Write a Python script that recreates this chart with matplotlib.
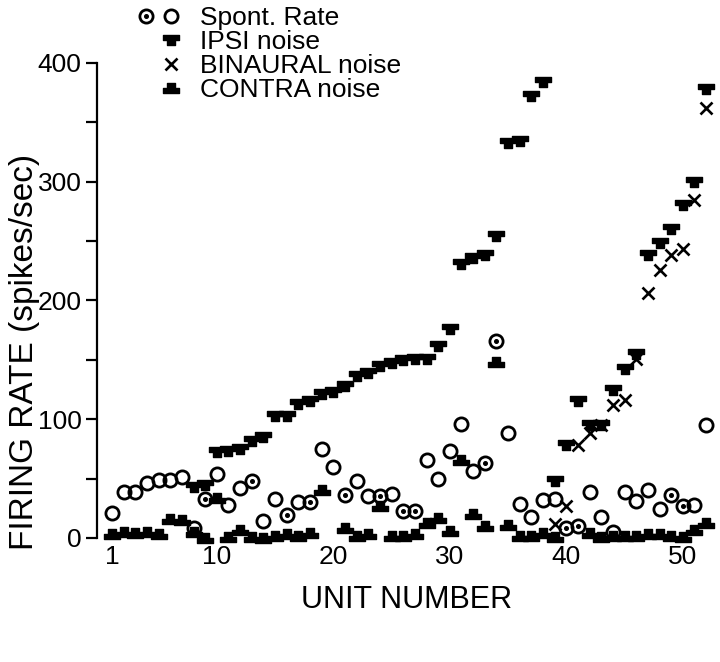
import numpy as np
import matplotlib
matplotlib.use("Agg")
import matplotlib.pyplot as plt
from matplotlib.path import Path
from matplotlib.lines import Line2D
from matplotlib.legend_handler import HandlerTuple

nan = np.nan
units = np.arange(1, 53)

spont = [21, 39, 39, 46, 49, 49, 51, 8, 33, 54, 28, 42, 48, 14, 33, 19, 30, 30, 75, 60,
         36, 48, 35, 35, 37, 23, 23, 66, 50, 73, 96, 56, 63, 166, 88, 29, 18, 32, 33, 8,
         10, 39, 18, 5, 39, 31, 40, 24, 36, 27, 28, 95]
dotted_units = [9, 13, 16, 18, 21, 24, 26, 27, 33, 34, 40, 41, 49, 50]

ipsi = [nan, nan, nan, nan, nan, nan, nan, 43, 45, 72, 73, 75, 82, 85, 103, 103, 113, 115, 121, 123,
        128, 136, 139, 145, 147, 150, 151, 151, 162, 176, 231, 236, 238, 254, 333, 334, 372, 384, 48, 78,
        115, 95, 95, 125, 142, 155, 238, 248, 260, 280, 300, 378]

binaural = [nan] * 38 + [12, 27, 78, 88, 95, 112, 116, 151, 206, 226, 238, 243, 285, 362]

contra = [3, 5, 4, 5, 3, 16, 15, 5, 0, 34, 1, 7, 1, 0, 2, 3, 2, 4, 40, nan,
          8, 2, 3, 27, 2, 2, 3, 13, 17, 6, 66, 20, 10, 148, 11, 2, 2, 4, 1, nan,
          nan, 4, 1, 2, 2, 2, 3, 3, 2, 1, 7, 13]

xticks = [1, 10, 20, 30, 40, 50]
yticks = [0, 100, 200, 300, 400]

plt.rcParams['font.family'] = ['Liberation Sans', 'DejaVu Sans']

# T-shaped markers
ipsi_verts = [(-1, 0.6), (1, 0.6), (1, 0.0), (0.45, 0.0), (0.45, -0.6), (-0.45, -0.6),
              (-0.45, 0.0), (-1, 0.0), (-1, 0.6)]
ipsi_marker = Path(ipsi_verts, closed=True)
contra_verts = [(x, -y) for x, y in ipsi_verts]
contra_marker = Path(contra_verts, closed=True)

fig = plt.figure(figsize=(7.2, 6.62), dpi=100)
ax = fig.add_axes([0.1345, 0.1784, 0.8592, 0.7444])

ms_c = 9.5
h_spont, = ax.plot(units, spont, linestyle='none', marker='o', ms=ms_c, mfc='none',
                   mec='black', mew=2.0)
dot_x = [u for u in dotted_units]
dot_y = [spont[u - 1] for u in dotted_units]
h_dot, = ax.plot(dot_x, dot_y, linestyle='none', marker='o', ms=2.6, mfc='black', mec='black')
h_ipsi, = ax.plot(units, ipsi, linestyle='none', marker=ipsi_marker, ms=11.5, color='black')
h_bin, = ax.plot(units, binaural, linestyle='none', marker='x', ms=9, mew=1.9, color='black')
h_con, = ax.plot(units, contra, linestyle='none', marker=contra_marker, ms=11.5, color='black')

ax.set_xlim(-0.3, 52.8)
ax.set_ylim(-5, 410)
for s in ['top', 'right', 'bottom']:
    ax.spines[s].set_visible(False)
ax.spines['left'].set_bounds(0, 400)
ax.spines['left'].set_linewidth(1.6)
ax.set_yticks(yticks)
ax.set_yticks([50, 150, 250, 350], minor=True)
ax.tick_params(axis='y', which='both', direction='out', length=8, width=1.6, labelsize=19, pad=3)
ax.set_xticks(xticks)
ax.tick_params(axis='x', length=0, labelsize=19, pad=1)

ax.set_ylabel('FIRING RATE (spikes/sec)', fontsize=24, va='center', ha='center')
ax.yaxis.set_label_coords(-0.1165, 0.39)
ax.set_xlabel('UNIT NUMBER', fontsize=22, va='center', ha='center')
ax.xaxis.set_label_coords(0.5, -(600 - 544) / 493.0)

blank = Line2D([], [], linestyle='none', marker='none')
dot_circ = (Line2D([], [], linestyle='none', marker='o', ms=ms_c, mfc='none', mec='black', mew=2.0),
            Line2D([], [], linestyle='none', marker='o', ms=2.6, color='black'))
circ = Line2D([], [], linestyle='none', marker='o', ms=ms_c, mfc='none', mec='black', mew=2.0)
handles = [(dot_circ, circ), (blank, h_ipsi), (blank, h_bin), (blank, h_con)]
labels = ['Spont. Rate', 'IPSI noise', 'BINAURAL noise', 'CONTRA noise']
leg = fig.legend(handles, labels, loc='upper left', bbox_to_anchor=(133 / 720, 1 - 6 / 662),
                 frameon=False, fontsize=19, labelspacing=0.0, handlelength=1.9,
                 handletextpad=0.65, borderpad=0, borderaxespad=0,
                 handler_map={dot_circ: HandlerTuple(ndivide=1),
                              tuple: HandlerTuple(ndivide=None, pad=0)})

fig.savefig('out.png', dpi=100)
